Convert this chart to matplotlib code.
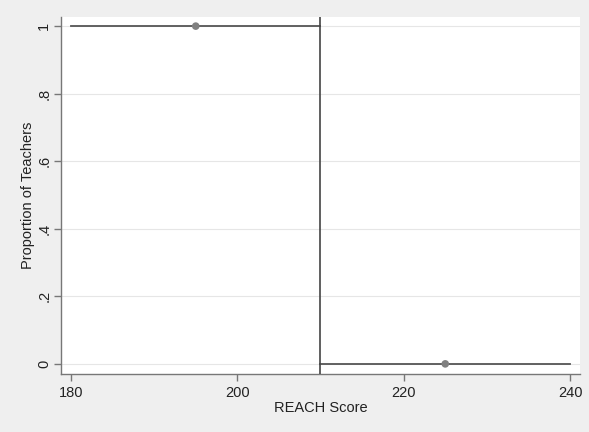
import matplotlib
matplotlib.use('Agg')
import matplotlib.pyplot as plt

plt.rcParams['font.family'] = ['Liberation Sans', 'DejaVu Sans']

# data
step_left_x = [180, 210]
step_left_y = [1, 1]
step_right_x = [210, 240]
step_right_y = [0, 0]
cutoff = 210
mean_x = [195, 225]
mean_y = [1, 0]
xticks = [180, 200, 220, 240]
yticks = [0, 0.2, 0.4, 0.6, 0.8, 1.0]
ytick_labels = ['0', '.2', '.4', '.6', '.8', '1']

bg = '#efefef'
fig = plt.figure(figsize=(5.89, 4.32), dpi=100, facecolor=bg)
ax = fig.add_axes([61 / 589, 1 - 374 / 432, (580 - 61) / 589, (374 - 17) / 432])
ax.set_facecolor('white')

for y in yticks:
    ax.axhline(y, color='#e6e6e6', lw=0.8, zorder=0)

ax.plot(step_left_x, step_left_y, color='#555555', lw=1.3, zorder=2)
ax.plot(step_right_x, step_right_y, color='#555555', lw=1.3, zorder=2)
ax.axvline(cutoff, color='#444444', lw=1.2, zorder=3)
ax.scatter(mean_x, mean_y, s=30, color='#808080', zorder=4, edgecolors='none')

ax.set_xlim(178.8, 241.2)
ax.set_ylim(-0.03, 1.027)
ax.set_xticks(xticks)
ax.set_yticks(yticks)
ax.set_yticklabels(ytick_labels, rotation=90, va='center')

for s in ['top', 'right']:
    ax.spines[s].set_visible(False)
for s in ['left', 'bottom']:
    ax.spines[s].set_color('#777777')
    ax.spines[s].set_linewidth(1.0)
ax.tick_params(colors='#777777', labelcolor='#222222', labelsize=10.5, length=5, width=1.0)
ax.tick_params(axis='y', pad=2)

ax.set_xlabel('REACH Score', fontsize=10.5, color='#222222', labelpad=1)
ax.set_ylabel('Proportion of Teachers', fontsize=10.5, color='#222222', va='center')
# y title sits just left of the tick labels
ax.yaxis.set_label_coords(-(61 - 28) / (580 - 61), 0.5)

fig.savefig('out.png', dpi=100, facecolor=bg)
